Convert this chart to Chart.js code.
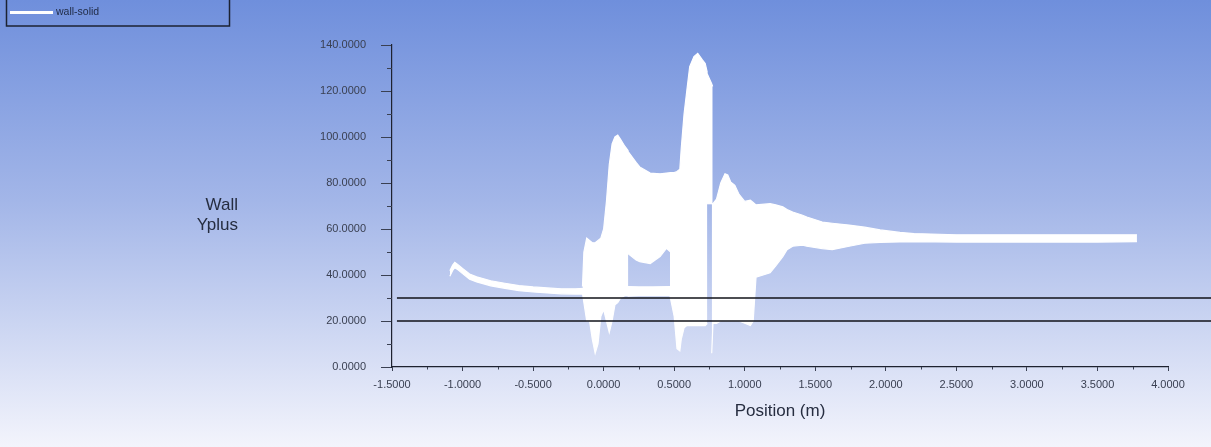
<!DOCTYPE html>
<html>
<head>
<meta charset="utf-8">
<title>Wall Yplus</title>
<script src="https://cdn.jsdelivr.net/npm/chart.js@4.4.1/dist/chart.umd.min.js"></script>
<style>
  html, body { margin: 0; padding: 0; background: #eef0fa; }
  #wrap { width: 1211px; height: 447px; }
</style>
</head>
<body>
<div id="wrap"><canvas id="graph" width="1211" height="447"></canvas></div>
<script>
// series name + axis texts
var seriesName = 'wall-solid';
var xTitle = 'Position (m)';
var yTitle = ['Wall', 'Yplus'];

// axis ranges / tick steps
var xRange = [-1.5, 4.0], xStep = 0.5;
var yRange = [0, 140], yStep = 20;

// the white cloud of points is read as a few bands (low / high envelope)
// thin tail on the left
var tailX    = [-1.09, -1.07, -1.055, -1.03, -1.0, -0.95, -0.9, -0.8, -0.7, -0.6, -0.5, -0.4, -0.3, -0.2, -0.14];
var tailLow  = [39.5, 42.0, 43.2, 42.2, 40.6, 38.2, 37.0, 35.3, 34.2, 33.2, 32.6, 32.2, 31.8, 31.7, 31.7];
var tailHigh = [41.8, 44.3, 45.5, 44.4, 42.8, 40.4, 39.2, 37.5, 36.4, 35.4, 34.8, 34.4, 34.0, 34.0, 34.2];

// first hump (around x = 0.1)
var leftX    = [-0.15, -0.14, -0.12, -0.10, -0.08, -0.06, -0.04, -0.02, 0.0, 0.02, 0.04, 0.06, 0.08, 0.10, 0.12, 0.15, 0.175];
var leftLow  = [32, 28, 20, 20, 12, 6, 10, 22, 25, 20, 15, 20, 27, 28, 30, 31, 31];
var leftHigh = [35, 50, 56, 55, 54, 54, 55, 56, 60, 72, 88, 97, 100, 100.8, 99, 96, 94];

// plateau above the gap, and the strip under it
var archX    = [0.17, 0.23, 0.256, 0.33, 0.40, 0.445, 0.475];
var archLow  = [49.4, 46.5, 45.8, 45.0, 48.0, 51.6, 50.0];
var archHigh = [94.0, 89.0, 87.0, 84.3, 84.0, 84.3, 84.5];
var baseX    = [0.17, 0.25, 0.35, 0.475];
var baseLow  = [30.8, 31.0, 31.0, 31.0];
var baseHigh = [35.0, 34.8, 34.8, 35.0];

// big peak
var peakX    = [0.47, 0.50, 0.52, 0.54, 0.55, 0.57, 0.59, 0.61, 0.64, 0.667, 0.70, 0.72, 0.735];
var peakLow  = [31, 22, 8, 7, 12, 17, 18, 18, 18, 18, 18, 18, 19];
var peakHigh = [84.5, 84.5, 85, 86, 95, 110, 120.4, 130.6, 135, 136.4, 133.5, 132, 128];
var capX     = [0.73, 0.765, 0.773];
var capLow   = [71, 71, 71];
var capHigh  = [128, 123.3, 122];

// right part settling to ~56
var rightX    = [0.766, 0.775, 0.80, 0.83, 0.86, 0.88, 0.90, 0.93, 0.96, 1.0, 1.04, 1.06, 1.08, 1.18, 1.22, 1.27, 1.30, 1.34, 1.41, 1.44, 1.55, 1.62, 1.74, 1.85, 1.96, 2.1, 2.2, 2.5, 3.0, 3.5, 3.78];
var rightLow  = [6, 19, 19, 20, 20, 20, 20, 20, 20, 19, 18, 20, 39, 41, 44, 48, 51, 52.5, 53, 52.5, 51.5, 51, 52.5, 53.8, 54.2, 54.4, 54.5, 54.3, 54.3, 54.3, 54.5];
var rightHigh = [71, 71, 73, 80, 84, 83.5, 80.5, 79, 75, 72, 72.5, 71.5, 70.5, 71, 70.5, 69.6, 68.5, 67.4, 66, 65.2, 63, 62.5, 61.7, 60.8, 59.6, 58.5, 58, 57.5, 57.5, 57.5, 57.5];

// the two black reference lines
var limitValues = [30, 20];
var limitFrom = -1.465, limitTo = 4.4;

var inkColor = '#262d40';
var tickColor = '#3a4052';

var datasets = [];

limitValues.forEach(function (v) {
    datasets.push({
        data: [{x: limitFrom, y: v}, {x: limitTo, y: v}],
        borderColor: '#101218',
        borderWidth: 1.5,
        pointRadius: 0,
        fill: false,
        clip: false,
        order: 0
    });
});

function addBand(xs, lo, hi) {
    datasets.push({
        data: xs.map(function (x, i) { return {x: x, y: lo[i]}; }),
        borderColor: '#ffffff',
        borderWidth: 1.2,
        pointRadius: 0,
        fill: false,
        order: 1
    });
    datasets.push({
        data: xs.map(function (x, i) { return {x: x, y: hi[i]}; }),
        borderColor: '#ffffff',
        borderWidth: 1.2,
        pointRadius: 0,
        backgroundColor: '#ffffff',
        fill: '-1',
        order: 1
    });
}

addBand(tailX, tailLow, tailHigh);
addBand(leftX, leftLow, leftHigh);
addBand(archX, archLow, archHigh);
addBand(baseX, baseLow, baseHigh);
addBand(peakX, peakLow, peakHigh);
addBand(capX, capLow, capHigh);
addBand(rightX, rightLow, rightHigh);

// background gradient, minor ticks, legend box and the unrotated y title
var fluentLook = {
    id: 'fluentLook',
    beforeDraw: function (chart) {
        var ctx = chart.ctx;
        var g = ctx.createLinearGradient(0, 0, 0, chart.height);
        g.addColorStop(0, 'rgb(111,143,220)');
        g.addColorStop(0.45, 'rgb(163,182,232)');
        g.addColorStop(1, 'rgb(243,244,252)');
        ctx.save();
        ctx.fillStyle = g;
        ctx.fillRect(0, 0, chart.width, chart.height);
        ctx.restore();
    },
    afterDraw: function (chart) {
        var ctx = chart.ctx;
        var xs = chart.scales.x, ys = chart.scales.y;
        ctx.save();
        ctx.strokeStyle = tickColor;
        ctx.lineWidth = 1;
        // minor ticks
        for (var v = yRange[0] + yStep / 2; v < yRange[1]; v += yStep) {
            var py = Math.round(ys.getPixelForValue(v)) + 0.5;
            ctx.beginPath();
            ctx.moveTo(ys.right - 5, py);
            ctx.lineTo(ys.right, py);
            ctx.stroke();
        }
        for (var u = xRange[0] + xStep / 2; u < xRange[1]; u += xStep) {
            var px = Math.round(xs.getPixelForValue(u)) + 0.5;
            ctx.beginPath();
            ctx.moveTo(px, xs.top);
            ctx.lineTo(px, xs.top + 2.5);
            ctx.stroke();
        }

        // legend box
        ctx.strokeStyle = '#1c2232';
        ctx.lineWidth = 1.5;
        ctx.strokeRect(6.5, -5, 223, 31);
        ctx.strokeStyle = '#ffffff';
        ctx.lineWidth = 3;
        ctx.beginPath();
        ctx.moveTo(10, 12.5);
        ctx.lineTo(53, 12.5);
        ctx.stroke();
        ctx.fillStyle = '#1f2a44';
        ctx.font = '10.5px "Liberation Sans", Arial, sans-serif';
        ctx.textBaseline = 'middle';
        ctx.textAlign = 'left';
        ctx.fillText(seriesName, 56, 12.5);

        // y title
        ctx.fillStyle = inkColor;
        ctx.font = '17px "Liberation Sans", Arial, sans-serif';
        ctx.textAlign = 'right';
        ctx.fillText(yTitle[0], 238, 205);
        ctx.fillText(yTitle[1], 238, 225);
        ctx.restore();
    }
};

var ctx = document.getElementById('graph').getContext('2d');
var chart = new Chart(ctx, {
    type: 'line',
    data: { datasets: datasets },
    options: {
        responsive: false,
        animation: false,
        events: [],
        layout: { padding: { left: 0, right: 43, top: 45, bottom: 0 } },
        plugins: {
            legend: { display: false },
            tooltip: { enabled: false }
        },
        elements: { line: { tension: 0 } },
        scales: {
            x: {
                type: 'linear',
                min: xRange[0],
                max: xRange[1],
                ticks: {
                    stepSize: xStep,
                    color: tickColor,
                    font: { family: '"Liberation Sans", Arial, sans-serif', size: 11 },
                    padding: 7,
                    maxRotation: 0,
                    callback: function (v) { return Number(v).toFixed(4); }
                },
                grid: { drawOnChartArea: false, tickLength: 4, tickColor: tickColor },
                border: { color: '#1e2230', width: 1.2 },
                title: {
                    display: true,
                    text: xTitle,
                    color: inkColor,
                    font: { family: '"Liberation Sans", Arial, sans-serif', size: 17 },
                    padding: { top: 0, bottom: 25 }
                },
                afterFit: function (scale) { scale.height = 80; }
            },
            y: {
                min: yRange[0],
                max: yRange[1],
                ticks: {
                    stepSize: yStep,
                    color: tickColor,
                    font: { family: '"Liberation Sans", Arial, sans-serif', size: 11 },
                    padding: 15,
                    callback: function (v) { return Number(v).toFixed(4); }
                },
                grid: { drawOnChartArea: false, tickLength: 11, tickColor: tickColor },
                border: { color: '#1e2230', width: 1.2 },
                afterFit: function (scale) { scale.width = 392; }
            }
        }
    },
    plugins: [fluentLook]
});
</script>
</body>
</html>
